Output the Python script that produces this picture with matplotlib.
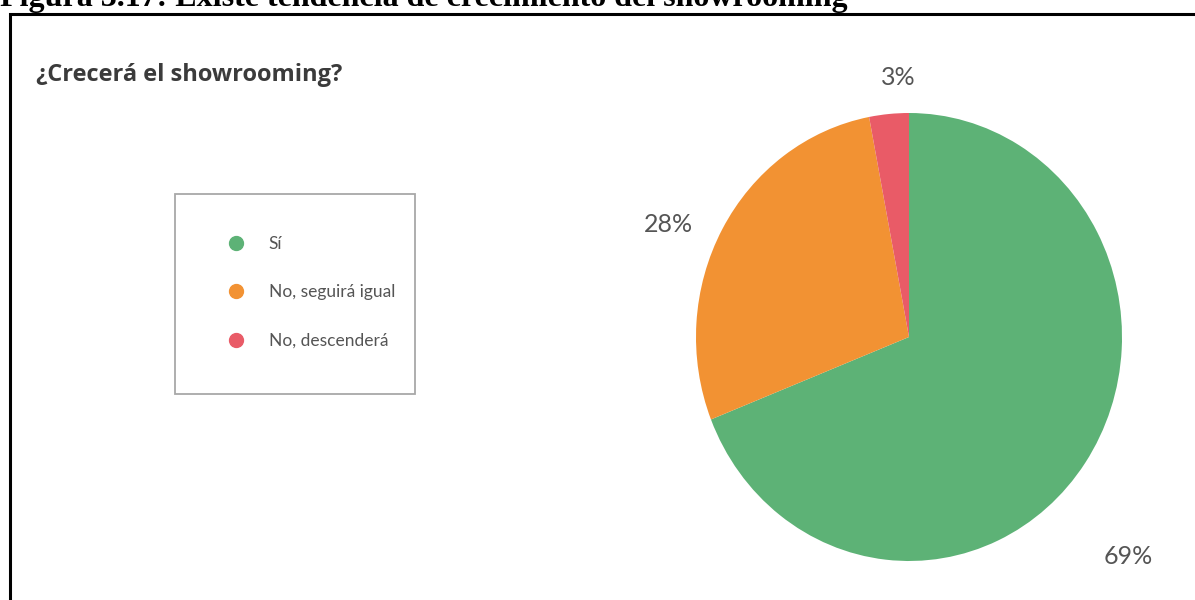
import matplotlib
matplotlib.use('Agg')
import matplotlib.pyplot as plt
from matplotlib.lines import Line2D
from matplotlib.patches import Rectangle

# Respuestas a la encuesta
categorias = ['Sí', 'No, seguirá igual', 'No, descenderá']
porcentajes = [69, 28, 3]
colores = ['#5db276', '#f29233', '#e95b67']

titulo = '¿Crecerá el showrooming?'
pie_figura = 'Figura 3.17: Existe tendencia de crecimiento del showrooming'

W, H = 1195, 600
fig = plt.figure(figsize=(W / 100, H / 100), dpi=100)
fig.patch.set_facecolor('white')

def px(x, y):
    """Pixel (desde arriba-izquierda) -> coordenadas de figura."""
    return x / W, 1 - y / H

# Leyenda del documento (cortada arriba)
fig.text(0, 1 - 6 / H, pie_figura, family='Liberation Serif', weight='bold',
         fontsize=23, va='baseline', ha='left', color='black')

# Marco negro del recuadro
marco_x, marco_y = px(10, 14)
fig.add_artist(Line2D([marco_x, marco_x, 1.0], [0.0, marco_y, marco_y],
                      transform=fig.transFigure, color='black', lw=2.2,
                      solid_joinstyle='miter'))

# Título del gráfico
tx, ty = px(36, 75)
fig.text(tx, ty, titulo, family='Open Sans', weight='bold', fontsize=17,
         va='center', ha='left', color='#3b3b3b')

# Tarta (elíptica, más alta que ancha)
cx, cy, rx, ry = 909, 337, 213, 224
ax = fig.add_axes([(cx - rx) / W, (H - cy - ry) / H, 2 * rx / W, 2 * ry / H])
wedges, textos = ax.pie(porcentajes, colors=colores, startangle=90,
                        counterclock=False, labels=[f'{p}%' for p in porcentajes],
                        labeldistance=1.2,
                        wedgeprops=dict(linewidth=0),
                        textprops=dict(family='Lato', fontsize=18, color='#555555'))
ax.set_aspect('auto')
ax.set_xlim(-1, 1)
ax.set_ylim(-1, 1)
ax.axis('off')

# Ajuste fino de la posición de las etiquetas
pos_etiquetas = [(1.03, -0.98), (-1.13, 0.50), (-0.05, 1.16)]
for t, (lx, ly) in zip(textos, pos_etiquetas):
    t.set_position((lx, ly))
    t.set_ha('center')
    t.set_va('center')
    t.set_clip_on(False)

# Caja de la leyenda
bx0, by0 = px(175, 394)
bx1, by1 = px(415, 194)
fig.add_artist(Rectangle((bx0, by0), bx1 - bx0, by1 - by0, transform=fig.transFigure,
                         facecolor='white', edgecolor='#a8a8a8', lw=1.3))

handles = [Line2D([], [], linestyle='none', marker='o', markersize=10,
                  markerfacecolor=c, markeredgecolor=c) for c in colores]
lx, ly = px(220, 227)
fig.legend(handles, categorias, loc='upper left', bbox_to_anchor=(lx, ly),
           frameon=False, borderpad=0, handlelength=0.9, handletextpad=1.4,
           labelspacing=1.87, prop=dict(family='Lato', size=12.5),
           labelcolor='#555555')

fig.savefig('out.png', dpi=100, facecolor='white')
